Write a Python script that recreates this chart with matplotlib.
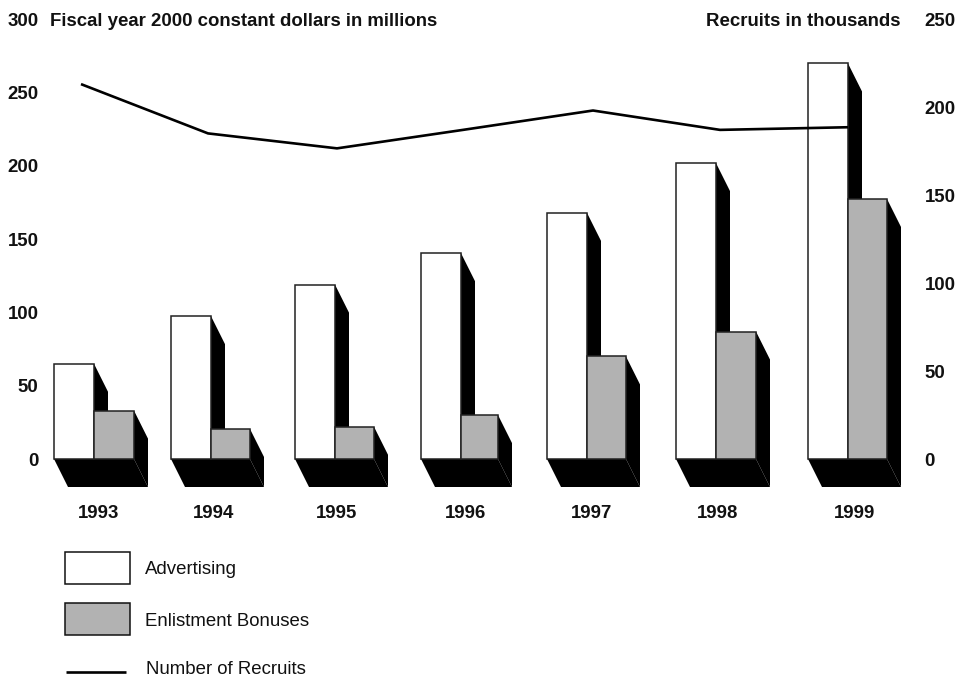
import matplotlib
matplotlib.use("Agg")
import matplotlib.pyplot as plt
from matplotlib.patches import Polygon, Rectangle

plt.rcParams['font.family'] = ['Liberation Sans', 'DejaVu Sans']

years = ['1993', '1994', '1995', '1996', '1997', '1998', '1999']
advertising = [65, 97.5, 119, 140.5, 168, 202, 270]
bonuses = [33, 20.5, 22, 30, 70, 87, 177.5]
recruits = [213, 185, 176.5, 187, 198, 187, 188.5]
left_ticks = [0, 50, 100, 150, 200, 250, 300]
right_ticks = [0, 50, 100, 150, 200, 250]

# the groups are not evenly spaced in the original, everything here is in pixels
group_x = [94, 211, 335, 461, 587, 716, 848]
year_x = [99, 214, 337, 466, 592, 718, 855]
line_x = [81, 208, 337, 463, 593, 720, 848]
gray_w = [40, 39, 39, 37, 39, 40, 39]
bar_w = 40
depth_x = 14
depth_px = 28

W, H = 958, 680
ax_left, ax_right = 42, 921
ax_top, ax_bottom = 5, 498
zero_px = 459
left_scale = 1.465   # pixels per unit
right_scale = 1.76
label_size = 13.45


def y_limits(scale):
    return (zero_px - ax_bottom) / scale, (zero_px - ax_top) / scale


fig = plt.figure(figsize=(W / 100, H / 100), dpi=100)
ax = fig.add_axes([ax_left / W, 1 - ax_bottom / H, (ax_right - ax_left) / W, (ax_bottom - ax_top) / H])
ax.set_xlim(ax_left, ax_right)
ax.set_ylim(*y_limits(left_scale))
depth = depth_px / left_scale

for i in range(len(years)):
    x = group_x[i]
    adv = advertising[i]
    bon = bonuses[i]
    gw = gray_w[i]

    # floor and the black sides first, then the bars on top
    ax.add_patch(Polygon([(x - bar_w, 0), (x - bar_w + depth_x, -depth), (x + gw + depth_x, -depth),
                          (x + gw, 0)], color='black', lw=0, zorder=1))
    ax.add_patch(Polygon([(x, adv), (x + depth_x, adv - depth), (x + depth_x, 0), (x, 0)],
                         color='black', lw=0, zorder=1))
    ax.add_patch(Polygon([(x + gw, bon), (x + gw + depth_x, bon - depth), (x + gw + depth_x, -depth),
                          (x + gw, 0)], color='black', lw=0, zorder=1))
    ax.bar(x - bar_w / 2, adv, bar_w, color='white', edgecolor='#222222', lw=1.1, zorder=2)
    ax.bar(x + gw / 2, bon, gw, color='#b2b2b2', edgecolor='#222222', lw=1.1, zorder=2)

ax.set_yticks(left_ticks)
ax.set_xticks(year_x)
ax.set_xticklabels(years)
ax.tick_params(axis='both', length=0, labelsize=label_size)
ax.tick_params(axis='y', pad=2.5)
ax.tick_params(axis='x', pad=5)
for label in ax.get_xticklabels() + ax.get_yticklabels():
    label.set_fontweight('bold')
    label.set_color('#111111')

ax2 = ax.twinx()
ax2.set_ylim(*y_limits(right_scale))
ax2.plot(line_x, recruits, color='black', lw=1.9, zorder=5, solid_capstyle='butt')
ax2.set_yticks(right_ticks)
ax2.tick_params(axis='y', length=0, labelsize=label_size, pad=2.5)
for label in ax2.get_yticklabels():
    label.set_fontweight('bold')
    label.set_color('#111111')

for a in (ax, ax2):
    for spine in a.spines.values():
        spine.set_visible(False)
ax.patch.set_visible(False)

fig.text(50 / W, 1 - 22 / H, 'Fiscal year 2000 constant dollars in millions', fontsize=label_size,
         fontweight='bold', va='center', color='#111111')
fig.text(901 / W, 1 - 22 / H, 'Recruits in thousands', fontsize=label_size, fontweight='bold',
         va='center', ha='right', color='#111111')

# legend drawn by hand in figure pixels
leg = fig.add_axes([0, 0, 1, 1], zorder=-1)
leg.set_xlim(0, W)
leg.set_ylim(H, 0)
leg.axis('off')
leg.add_patch(Rectangle((65.5, 551.5), 64.5, 32, fc='white', ec='#111111', lw=1.1))
leg.add_patch(Rectangle((65.5, 603), 64.5, 32, fc='#b2b2b2', ec='#111111', lw=1.1))
leg.plot([66, 126], [672, 672], color='black', lw=1.9, solid_capstyle='butt')
leg.text(145, 569.5, 'Advertising', fontsize=label_size, va='center', color='#111111')
leg.text(145, 621.5, 'Enlistment Bonuses', fontsize=label_size, va='center', color='#111111')
# kept a little high so the text box stays inside the figure
leg.text(146, 669.5, 'Number of Recruits', fontsize=label_size, va='center', color='#111111')

fig.savefig('out.png', dpi=100)
